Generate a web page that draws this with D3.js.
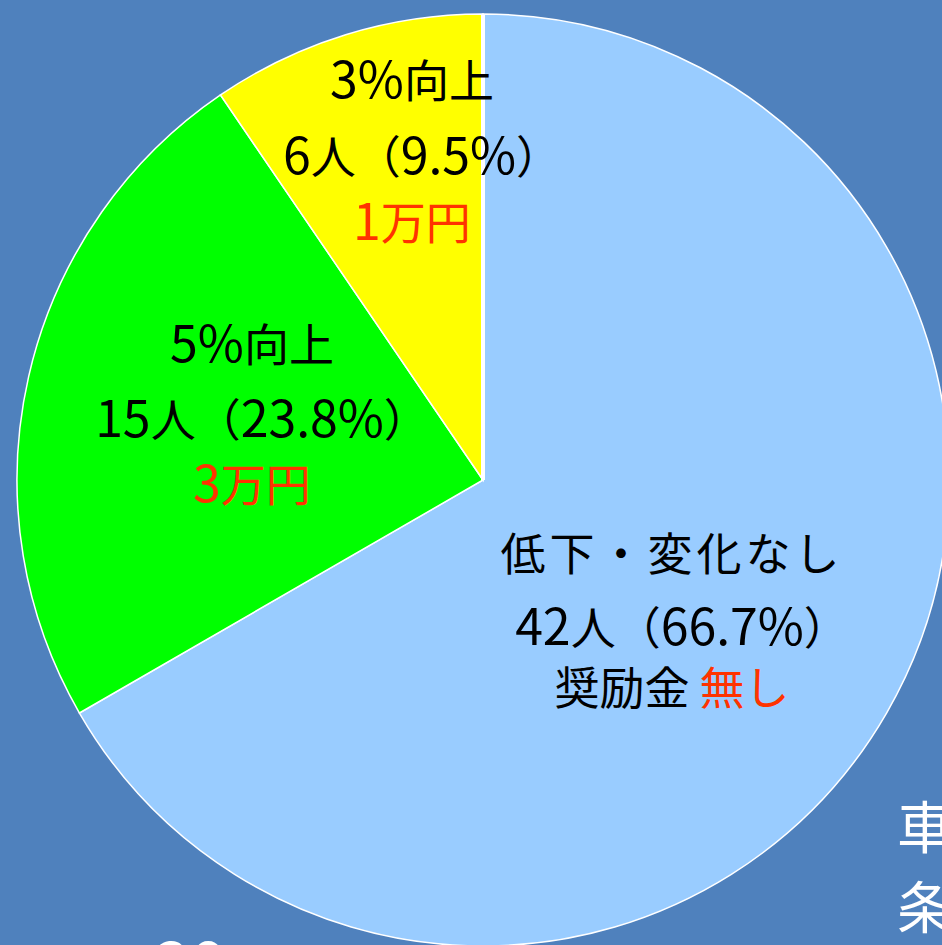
<!DOCTYPE html>
<html>
<head>
<meta charset="utf-8">
<script src="https://cdn.jsdelivr.net/npm/d3@7"></script>
<style>
  html, body { margin: 0; padding: 0; background: #4f81bd; overflow: hidden; }
  text { font-family: "Noto Sans CJK JP", "Noto Sans", sans-serif; }
</style>
</head>
<body>
<div id="chart"></div>
<script>
// data
var categories = ["低下・変化なし", "5%向上", "3%向上"];
var counts = [42, 15, 6];
var shares = ["66.7%", "23.8%", "9.5%"];
var prizes = ["無し", "3万円", "1万円"];
var colors = ["#99ccff", "#00ff00", "#ffff00"];

var width = 942, height = 945;
var cx = 483, cy = 480, radius = 466;

var svg = d3.select("#chart").append("svg")
    .attr("width", width)
    .attr("height", height);

svg.append("rect")
    .attr("width", width)
    .attr("height", height)
    .attr("fill", "#4f81bd");

var pie = d3.pie().sort(null).value(d => d);
var arcs = pie(counts);
var arc = d3.arc().innerRadius(0).outerRadius(radius);

var g = svg.append("g").attr("transform", "translate(" + cx + "," + cy + ")");

g.selectAll("path.slice")
  .data(arcs)
  .join("path")
    .attr("class", "slice")
    .attr("d", arc)
    .attr("fill", (d, i) => colors[i])
    .attr("stroke", "#ffffff")
    .attr("stroke-width", 1.5);

// thicker white divider at 12 o'clock
var a0 = arcs[0].startAngle;
g.append("line")
    .attr("x1", 0).attr("y1", 0)
    .attr("x2", radius * Math.sin(a0))
    .attr("y2", -radius * Math.cos(a0))
    .attr("stroke", "#ffffff")
    .attr("stroke-width", 4);

// label layout (x center, baselines of three lines)
var labelPos = [
  {x: 672, y: [571, 645, 705]},
  {x: 252, y: [362, 437, 502]},
  {x: 412, y: [98, 174, 240]}
];

// digits and % are drawn a bit larger, like the rounded font of the original
function addRuns(t, str, fill) {
  str.match(/[0-9.%]+|[^0-9.%]+/g).forEach(function(run) {
    t.append("tspan")
        .attr("fill", fill)
        .attr("font-size", /[0-9.%]/.test(run) ? 50 : 45)
        .text(run);
  });
}

var labels = svg.append("g").attr("text-anchor", "middle");

arcs.forEach(function(d, i) {
  var p = labelPos[i];
  var t1 = labels.append("text")
      .attr("x", p.x).attr("y", p.y[0])
      .attr("letter-spacing", i == 0 ? 4 : 0);
  addRuns(t1, categories[i], "#000");
  var t2 = labels.append("text")
      .attr("x", p.x + 10).attr("y", p.y[1]);
  addRuns(t2, counts[i] + "人（" + shares[i] + "）", "#000");
  var t3 = labels.append("text")
      .attr("x", p.x).attr("y", p.y[2]);
  if (i == 0) addRuns(t3, "奨励金 ", "#000");
  addRuns(t3, prizes[i], "#ff3300");
});

// partially visible slide text
svg.append("text").attr("x", 897).attr("y", 848)
    .attr("font-size", 56).attr("fill", "#fff").text("車");
svg.append("text").attr("x", 897).attr("y", 928)
    .attr("font-size", 56).attr("fill", "#fff").text("条");
svg.append("text").attr("x", 155).attr("y", 985)
    .attr("font-size", 60).attr("font-weight", "bold").attr("fill", "#fff").text("20");
</script>
</body>
</html>
